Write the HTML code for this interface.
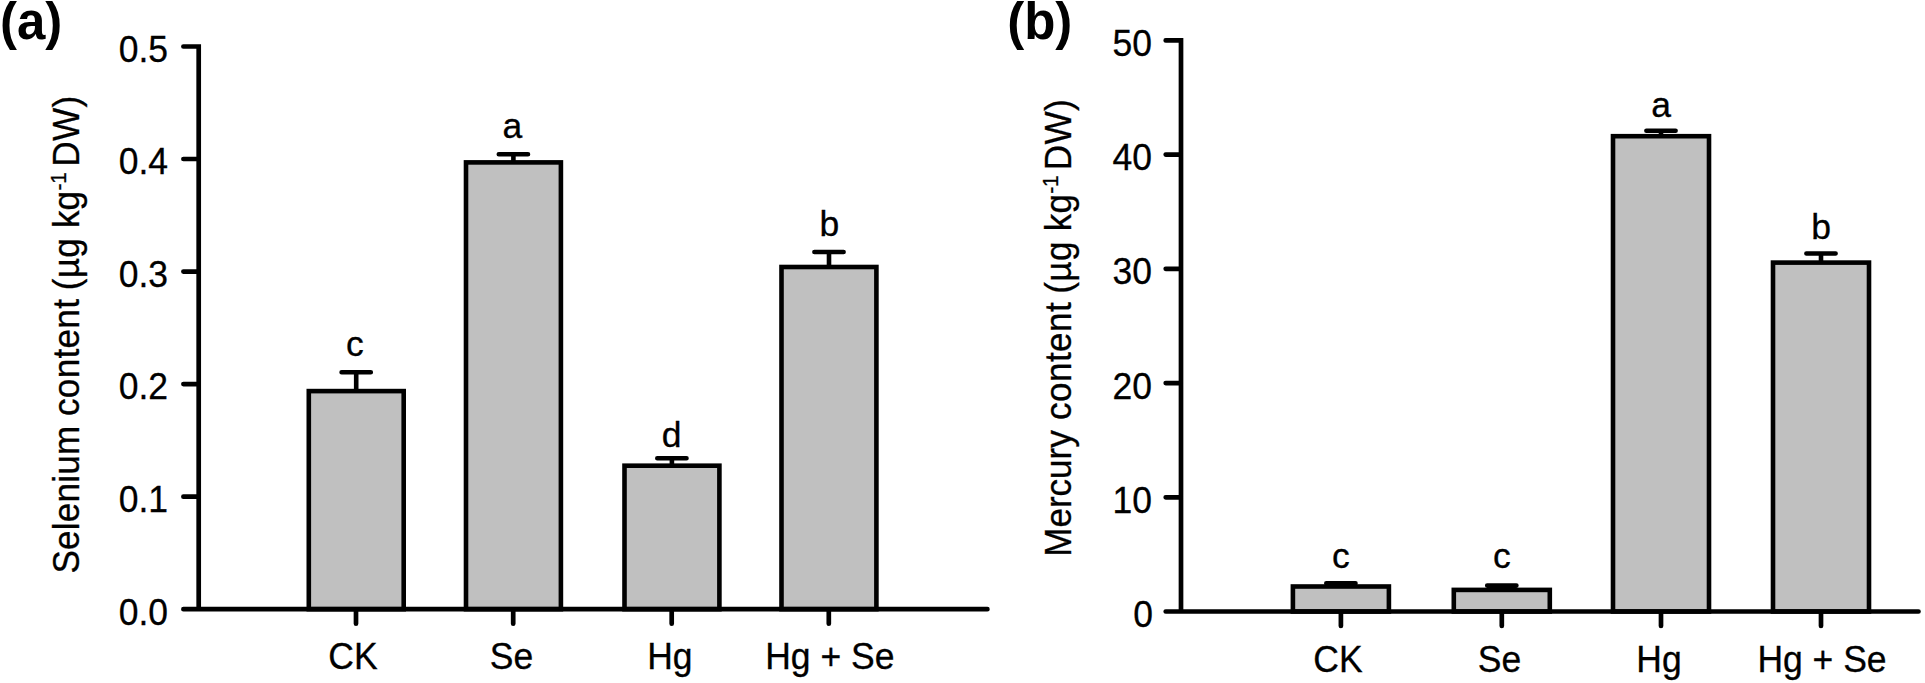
<!DOCTYPE html>
<html lang="en"><head><meta charset="utf-8"><title>Selenium and mercury content</title>
<style>
html,body{margin:0;padding:0;background:#fff;}
body{width:1925px;height:683px;overflow:hidden;}
svg{display:block;}
text{font-family:"Liberation Sans",Arial,Helvetica,sans-serif;fill:#000;}
.t{font-size:35.5px;stroke:#000;stroke-width:0.3px;}
.p{font-size:51px;font-weight:bold;}
.b{fill:#c0c0c0;stroke:#000;stroke-width:4.6;stroke-linejoin:miter;}
.e{fill:none;stroke:#000;stroke-width:4.6;stroke-linecap:round;}
.a{fill:none;stroke:#000;stroke-width:4.7;stroke-linecap:round;stroke-linejoin:miter;}
</style></head><body>
<svg width="1925" height="683" viewBox="0 0 1925 683">
<rect width="1925" height="683" fill="#fff"/>

<g id="chart-a">
<text class="p" x="0" y="39.1">(a)</text>
<path d="M356.2 391.1V372.3M341.6 372.3H370.8" class="e"/>
<rect x="308.8" y="391.1" width="94.9" height="218.1" class="b"/>
<path d="M513.4 162.4V154.3M498.8 154.3H528.0" class="e"/>
<rect x="466.0" y="162.4" width="94.9" height="446.8" class="b"/>
<path d="M671.9 465.7V458.3M657.3 458.3H686.5" class="e"/>
<rect x="624.5" y="465.7" width="94.9" height="143.5" class="b"/>
<path d="M829.0 267.0V252.0M814.4 252.0H843.6" class="e"/>
<rect x="781.5" y="267.0" width="94.9" height="342.2" class="b"/>
<path class="a" d="M183.4 46.5H198.7V609.2M183.4 609.2H987.4M183.4 159.0H198.7M183.4 271.6H198.7M183.4 384.1H198.7M183.4 496.7H198.7M356.0 609.2V623.7M513.2 609.2V623.7M671.7 609.2V623.7M828.8 609.2V623.7"/>
<text class="t" text-anchor="end" transform="translate(168.0 61.8) scale(1 1.05)">0.5</text>
<text class="t" text-anchor="end" transform="translate(168.0 174.3) scale(1 1.05)">0.4</text>
<text class="t" text-anchor="end" transform="translate(168.0 286.9) scale(1 1.05)">0.3</text>
<text class="t" text-anchor="end" transform="translate(168.0 399.4) scale(1 1.05)">0.2</text>
<text class="t" text-anchor="end" transform="translate(168.0 512.0) scale(1 1.05)">0.1</text>
<text class="t" text-anchor="end" transform="translate(168.0 624.5) scale(1 1.05)">0.0</text>
<text class="t" text-anchor="middle" transform="translate(353.0 668.9) scale(1 1.05)">CK</text>
<text class="t" text-anchor="middle" transform="translate(511.5 668.9) scale(1 1.05)">Se</text>
<text class="t" text-anchor="middle" transform="translate(669.9 668.9) scale(1 1.05)">Hg</text>
<text class="t" text-anchor="middle" transform="translate(829.8 668.9) scale(1 1.05)">Hg + Se</text>
<text class="t" text-anchor="middle" x="354.8" y="356.4">c</text>
<text class="t" text-anchor="middle" x="512.4" y="138.1">a</text>
<text class="t" text-anchor="middle" x="671.7" y="446.6">d</text>
<text class="t" text-anchor="middle" x="829.3" y="235.6">b</text>
<text class="t" transform="translate(78.5 573.5) rotate(-90) scale(0.989 1.04)"><tspan letter-spacing="0.2">Selenium</tspan><tspan dx="-0.5" letter-spacing="0.3"> content</tspan><tspan dx="-1.7" letter-spacing="0.4"> (µg</tspan> kg<tspan dy="-12.5" dx="0.3" font-size="21">-1</tspan><tspan dy="12.5" dx="-4.7" letter-spacing="0.4"> DW)</tspan></text>
</g>
<g id="chart-b">
<text class="p" x="1007.2" y="39.1">(b)</text>
<path d="M1340.9 586.5V583.3M1326.3 583.3H1355.5" class="e"/>
<rect x="1292.9" y="586.5" width="96.0" height="25.0" class="b"/>
<path d="M1501.8 589.9V585.6M1487.2 585.6H1516.4" class="e"/>
<rect x="1453.8" y="589.9" width="96.0" height="21.6" class="b"/>
<path d="M1661.0 136.2V130.8M1646.4 130.8H1675.6" class="e"/>
<rect x="1613.0" y="136.2" width="96.0" height="475.3" class="b"/>
<path d="M1821.0 262.6V253.5M1806.4 253.5H1835.6" class="e"/>
<rect x="1773.0" y="262.6" width="96.0" height="348.9" class="b"/>
<path class="a" d="M1165.7 40.4H1181.0V611.5M1165.7 611.5H1918.5M1165.7 154.6H1181.0M1165.7 268.8H1181.0M1165.7 383.1H1181.0M1165.7 497.3H1181.0M1340.9 611.5V626.0M1501.8 611.5V626.0M1661.0 611.5V626.0M1821.0 611.5V626.0"/>
<text class="t" text-anchor="end" transform="translate(1152.0 56.0) scale(1 1.05)">50</text>
<text class="t" text-anchor="end" transform="translate(1152.0 170.2) scale(1 1.05)">40</text>
<text class="t" text-anchor="end" transform="translate(1152.0 284.4) scale(1 1.05)">30</text>
<text class="t" text-anchor="end" transform="translate(1152.0 398.7) scale(1 1.05)">20</text>
<text class="t" text-anchor="end" transform="translate(1152.0 512.9) scale(1 1.05)">10</text>
<text class="t" text-anchor="end" transform="translate(1153.0 627.1) scale(1 1.05)">0</text>
<text class="t" text-anchor="middle" transform="translate(1337.9 671.8) scale(1 1.05)">CK</text>
<text class="t" text-anchor="middle" transform="translate(1499.5 671.8) scale(1 1.05)">Se</text>
<text class="t" text-anchor="middle" transform="translate(1659.0 671.8) scale(1 1.05)">Hg</text>
<text class="t" text-anchor="middle" transform="translate(1822.0 671.8) scale(1 1.05)">Hg + Se</text>
<text class="t" text-anchor="middle" x="1340.9" y="568.2">c</text>
<text class="t" text-anchor="middle" x="1501.8" y="568.2">c</text>
<text class="t" text-anchor="middle" x="1661.0" y="117.2">a</text>
<text class="t" text-anchor="middle" x="1821.0" y="238.9">b</text>
<text class="t" transform="translate(1071 556.8) rotate(-90) scale(0.988 1.04)">Mercury<tspan letter-spacing="0.45"> content</tspan><tspan dx="-2.1" letter-spacing="0.4"> (µg</tspan><tspan dx="0.3"> kg</tspan><tspan dy="-12.5" dx="0.3" font-size="21">-1</tspan><tspan dy="12.5" dx="-5.0" letter-spacing="0.4"> DW)</tspan></text>
</g>
</svg>
</body></html>
